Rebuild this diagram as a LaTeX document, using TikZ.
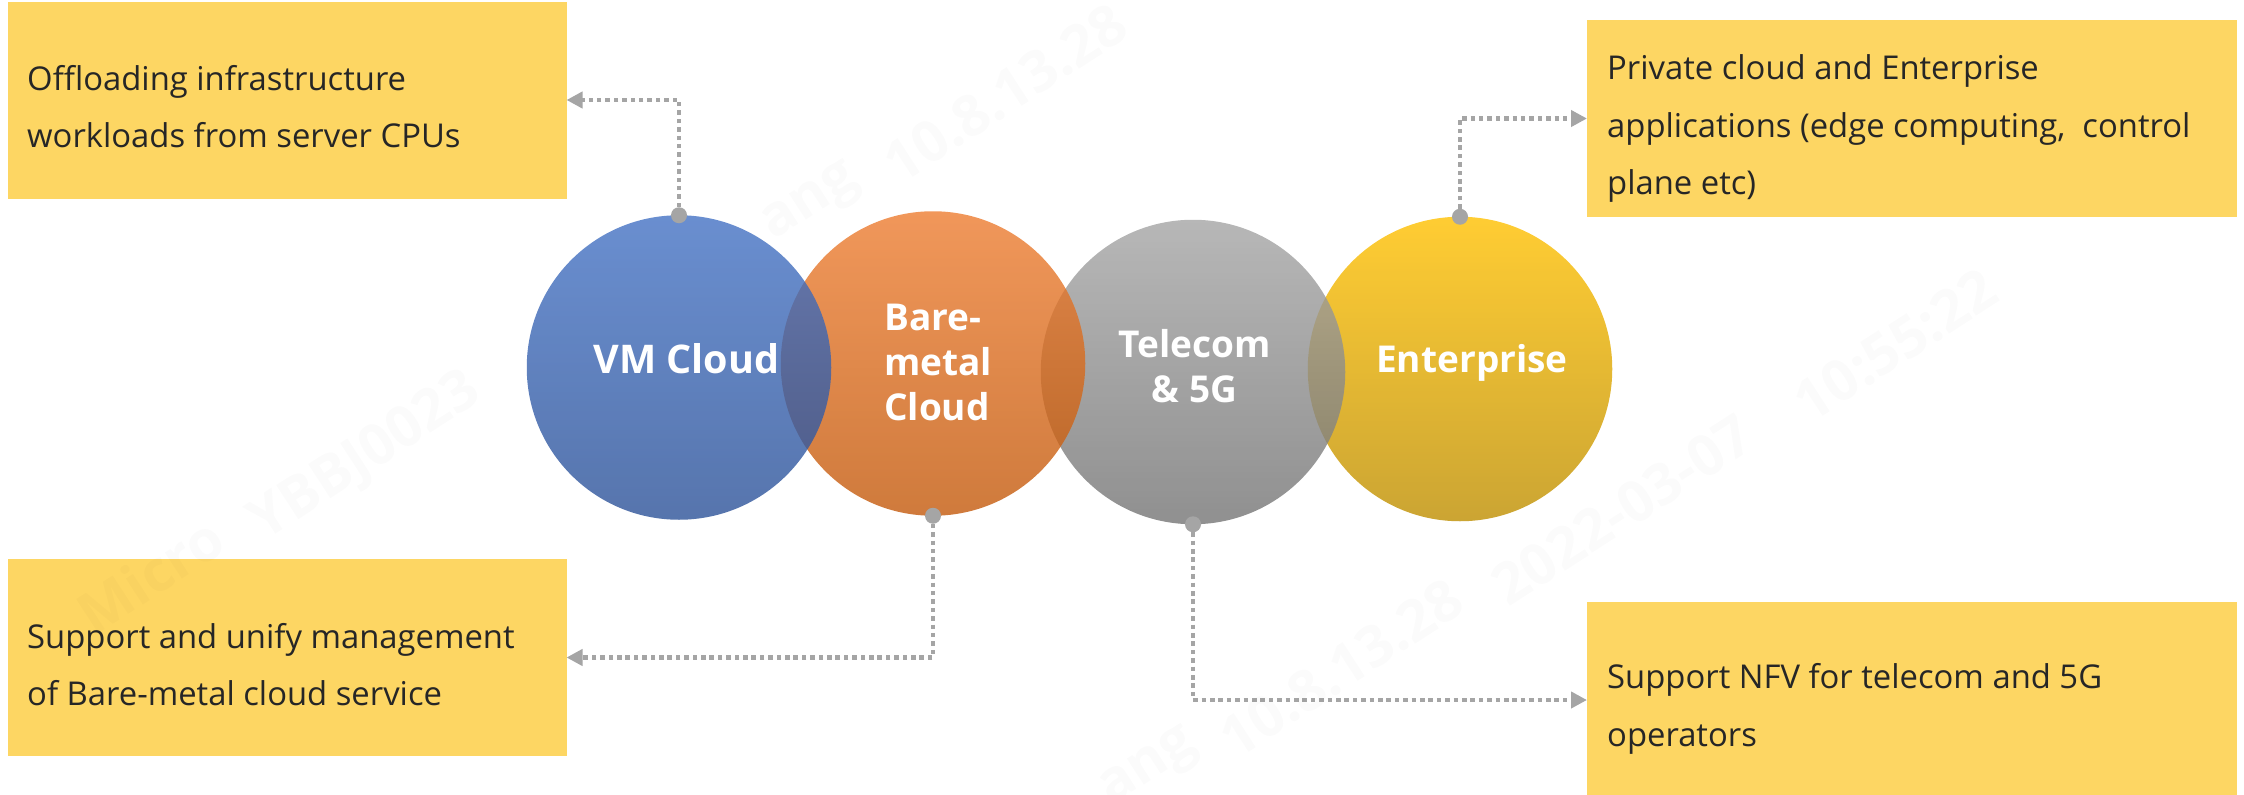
\documentclass[tikz,border=0pt]{standalone}
\usepackage{fontspec}
\setmainfont{Open Sans}
\usetikzlibrary{arrows.meta}
\definecolor{boxyellow}{HTML}{FDD663}
\definecolor{linkgray}{HTML}{A5A5A5}
\definecolor{inktext}{HTML}{262626}
\tikzset{
  infobox/.style={fill=boxyellow,draw=none,minimum width=559pt,minimum height=197pt,inner sep=0pt,outer sep=0pt},
  disc/.style={circle,draw=none,minimum size=304.5pt,inner sep=0pt,outer sep=0pt,fill opacity=.8},
  dotend/.style={circle,fill=linkgray,draw=none,minimum size=16pt,inner sep=0pt,outer sep=0pt},
  infotext/.style={anchor=base west,align=left,inner sep=0pt,text=inktext,
    font=\fontsize{32.8}{57.5}\selectfont},
  disctext/.style={anchor=base,align=center,inner sep=0pt,text=white,
    font=\fontsize{37}{45}\selectfont\bfseries},
  link/.style={draw=linkgray,line width=4.5pt,dash pattern=on 4.5pt off 3.9pt,
    -{Triangle[length=16pt,width=16pt]}},
  mark text/.style={text=black,opacity=.015,rotate=33,font=\fontsize{57}{57}\selectfont\bfseries}
}
\begin{document}
\begin{tikzpicture}[x=1pt,y=-1pt]
\useasboundingbox (0,0) rectangle (2244,795);
\node[infobox] (boxa) at (287,100) {};
\node[infobox] (boxb) at (287,657.5) {};
\node[infobox,minimum width=650pt] (boxc) at (1912,118.5) {};
\node[infobox,minimum width=650pt] (boxd) at (1912,700) {};
\node[disc,top color={rgb,255:red,255;green,192;blue,0},bottom color={rgb,255:red,190;green,142;blue,0}] (ent) at (1460,369) {};
\node[disc,top color={rgb,255:red,165;green,165;blue,165},bottom color={rgb,255:red,116;green,116;blue,116}] (tel) at (1193,372) {};
\node[disc,top color={rgb,255:red,237;green,125;blue,49},bottom color={rgb,255:red,195;green,89;blue,11}] (bare) at (933,363.5) {};
\node[disc,top color={rgb,255:red,68;green,114;blue,196},bottom color={rgb,255:red,44;green,82;blue,152}] (vm) at (679,367.5) {};
\node[dotend] (da) at (vm.north) {};
\node[dotend] (db) at (bare.south) {};
\node[dotend] (dc) at (tel.south) {};
\node[dotend] (dd) at (ent.north) {};
\draw[link] (da) |- (boxa.east);
\draw[link] (db) |- (boxb.east);
\draw[link] (dc) |- (boxd.west);
\draw[link] (dd) |- (boxc.west);
\node[infotext] (ta) at (27,147.5) {Offloading infrastructure\\workloads from server CPUs};
\node[infotext] (tb) at (27,705.5) {Support and unify management\\of Bare-metal cloud service};
\node[infotext] (tc) at (1607,194.5) {Private cloud and Enterprise\\applications (edge computing,\ \ control\\plane etc)};
\node[infotext] (td) at (1607,746) {Support NFV for telecom and 5G\\operators};
\node[disctext,font=\fontsize{39.5}{45}\selectfont\bfseries] (la) at (686.5,373) {VM Cloud};
\node[disctext,align=left,anchor=base west] (lb) at (884,420) {Bare-\\metal\\Cloud};
\node[disctext] (lc) at (1194.5,402) {Telecom\\\& 5G};
\node[disctext] (ld) at (1472,372) {Enterprise};
\node[mark text] (m0) at (150,575) {Micro};
\node[mark text] (m1) at (366,458) {YBBJ0023};
\node[mark text] (m6) at (812,205) {ang};
\node[mark text] (m2) at (1005,93) {10.8.13.28};
\node[mark text] (m7) at (1150,770) {ang};
\node[mark text] (m3) at (1341,668) {10.8.13.28};
\node[mark text] (m4) at (1622,510) {2022-03-07};
\node[mark text] (m5) at (1895,345) {10:55:22};
\end{tikzpicture}
\end{document}
